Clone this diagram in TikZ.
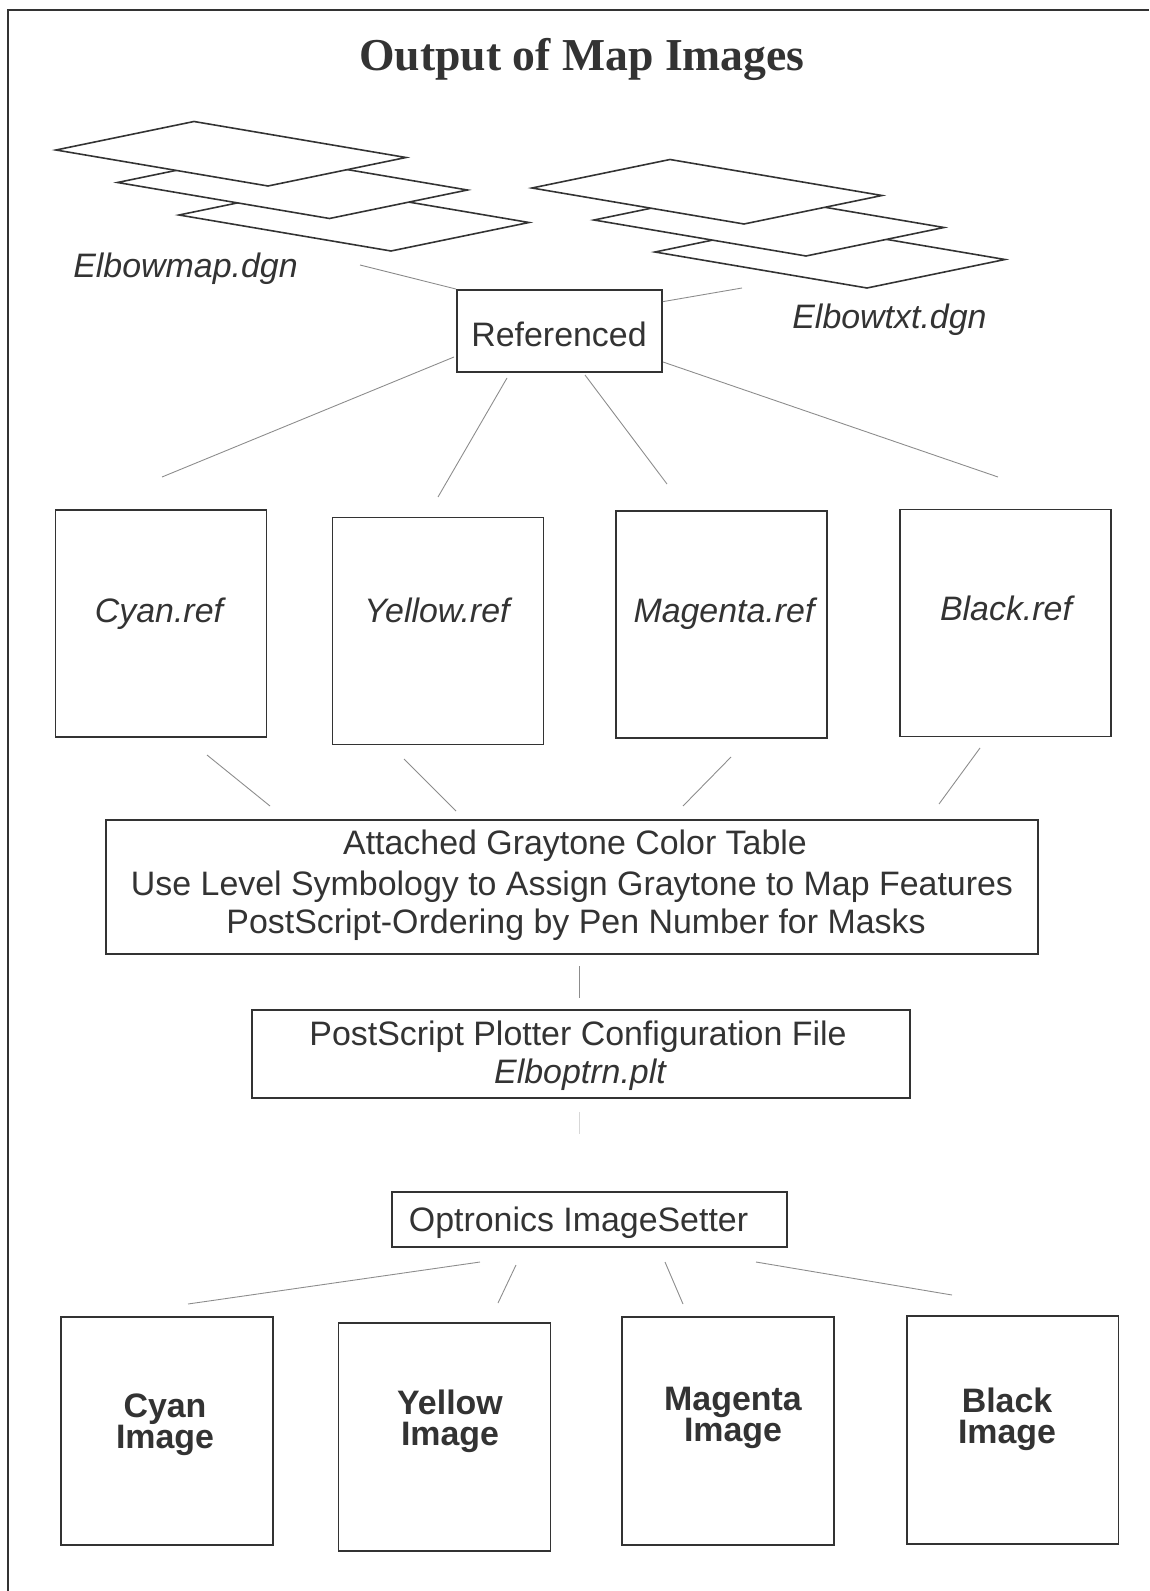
\documentclass[tikz,border=0pt]{standalone}
\usepackage{fontspec}
\setmainfont{Liberation Sans}
\newfontfamily\titlefont{Liberation Serif}
\usetikzlibrary{calc}
\definecolor{ink}{HTML}{333333}
\definecolor{thinline}{HTML}{8C8C8C}
\begin{document}
\begin{tikzpicture}[x=0.02cm,y=-0.02cm,
  box/.style={draw=ink, line width=1.1pt, fill=white, inner sep=0pt},
  refbox/.style={box, minimum width=4.22cm, minimum height=4.54cm},
  imgbox/.style={box, minimum width=4.24cm, minimum height=4.56cm},
  plate/.style={draw=ink, line width=0.9pt, fill=white, line join=miter},
  conn/.style={draw=thinline, line width=0.5pt},
  txt/.style={anchor=base, inner sep=0pt, text=ink, font=\fontsize{19.3}{23}\selectfont},
  itxt/.style={txt, font=\fontsize{19.3}{23}\selectfont\itshape},
  btxt/.style={txt, font=\fontsize{19.3}{23}\selectfont\bfseries},
  ttl/.style={anchor=base, inner sep=0pt, text=ink, font=\fontsize{26}{30}\selectfont\titlefont\bfseries}]
\useasboundingbox (0,0) rectangle (1149,1591);
\fill[white] (0,0) rectangle (1149,1591);
% frame
\draw[ink, line width=1.1pt] (8,1591) -- (8,10) -- (1149,10);
% title
\node[ttl] (title) at (582,71) {Output of Map Images};
% stacked design files
\newcommand\plateshape[2]{\draw[plate] (#1,#2) -- ++(138,-28.5) -- ++(212,36) -- ++(-138,28.5) -- cycle;}
\plateshape{179}{215}
\plateshape{117.5}{182.5}
\plateshape{56}{150}
\plateshape{655}{252}
\plateshape{594}{220}
\plateshape{532}{188}
\node[itxt, anchor=base west] (mapdgn) at (73,277) {Elbowmap.dgn};
\node[itxt, anchor=base west] (txtdgn) at (792,328) {Elbowtxt.dgn};
% referenced
\node[box, minimum width=4.10cm, minimum height=1.64cm] (ref) at (559.5,331) {};
\node[txt] (reftxt) at (559,346) {Referenced};
\coordinate (pm) at (360,265);
\coordinate (pt) at (742,288);
\draw[conn] (pm) -- (ref.north west);
\draw[conn] (pt) -- ($(ref.north east)!0.15!(ref.south east)$);
% ref boxes
\node[refbox] (cref) at (161,623.5) {};
\node[refbox] (yref) at (438,631) {};
\node[refbox] (mref) at (721.5,624.5) {};
\node[refbox] (kref) at (1005.5,623) {};
\node[itxt] at (159,622) {Cyan.ref};
\node[itxt] at (437,622) {Yellow.ref};
\node[itxt] at (724,622) {Magenta.ref};
\node[itxt] at (1006,620) {Black.ref};
\coordinate (r1a) at (454,357); \coordinate (r1b) at (162,477);
\coordinate (r2a) at (507,378); \coordinate (r2b) at (438,497);
\coordinate (r3a) at (585,375); \coordinate (r3b) at (667,484);
\coordinate (r4a) at (663,362); \coordinate (r4b) at (998,477);
\draw[conn] (r1a) -- (r1b);
\draw[conn] (r2a) -- (r2b);
\draw[conn] (r3a) -- (r3b);
\draw[conn] (r4a) -- (r4b);
% graytone table
\node[box, minimum width=18.64cm, minimum height=2.68cm] (gray) at (572,887) {};
\node[txt] at (575,854) {Attached Graytone Color Table};
\node[txt] at (572,895) {Use Level Symbology to Assign Graytone to Map Features};
\node[txt] at (576,933) {PostScript-Ordering by Pen Number for Masks};
\coordinate (m1a) at (207,755); \coordinate (m1b) at (270,806);
\coordinate (m2a) at (404,759); \coordinate (m2b) at (456,811);
\coordinate (m3a) at (731,757); \coordinate (m3b) at (683,806);
\coordinate (m4a) at (980,748); \coordinate (m4b) at (939,804);
\draw[conn] (m1a) -- (m1b);
\draw[conn] (m2a) -- (m2b);
\draw[conn] (m3a) -- (m3b);
\draw[conn] (m4a) -- (m4b);
% plotter config
\node[box, minimum width=13.16cm, minimum height=1.76cm] (plt) at (581,1054) {};
\node[txt] at (578,1045) {PostScript Plotter Configuration File};
\node[itxt] at (580,1083) {Elboptrn.plt};
\coordinate (g1) at (579,966); \coordinate (g2) at (579,998);
\draw[conn] (g1) -- (g2);
\coordinate (p1) at (579,1112); \coordinate (p2) at (579,1134);
\draw[draw=thinline!35, line width=0.5pt] (p1) -- (p2);
% imagesetter
\node[box, minimum width=7.90cm, minimum height=1.10cm] (opt) at (589.5,1219.5) {};
\node[txt] at (578.5,1231) {Optronics ImageSetter};
\coordinate (o1a) at (480,1262); \coordinate (o1b) at (188,1304);
\coordinate (o2a) at (516,1265); \coordinate (o2b) at (498,1303);
\coordinate (o3a) at (665,1262); \coordinate (o3b) at (683,1304);
\coordinate (o4a) at (756,1262); \coordinate (o4b) at (952,1295);
\draw[conn] (o1a) -- (o1b);
\draw[conn] (o2a) -- (o2b);
\draw[conn] (o3a) -- (o3b);
\draw[conn] (o4a) -- (o4b);
% image boxes
\node[imgbox] (cimg) at (167,1431) {};
\node[imgbox] (yimg) at (444.5,1437) {};
\node[imgbox] (mimg) at (728,1431) {};
\node[imgbox] (kimg) at (1012.5,1430) {};
\node[btxt] at (165,1417) {Cyan};
\node[btxt] at (165,1448) {Image};
\node[btxt] at (450,1414) {Yellow};
\node[btxt] at (450,1445) {Image};
\node[btxt] at (733,1410) {Magenta};
\node[btxt] at (733,1441) {Image};
\node[btxt] at (1007,1412) {Black};
\node[btxt] at (1007,1443) {Image};
\end{tikzpicture}
\end{document}
